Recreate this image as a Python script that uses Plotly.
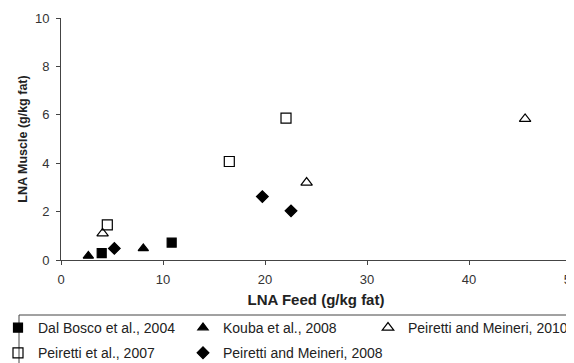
import plotly.graph_objects as go

# Data
dal_bosco_x = [3.99, 10.85]
dal_bosco_y = [0.28, 0.72]
kouba_x = [2.68, 8.07]
kouba_y = [0.17, 0.48]
peiretti2010_x = [4.08, 24.08, 45.5]
peiretti2010_y = [1.10, 3.20, 5.83]
peiretti2007_x = [4.54, 16.5, 22.06]
peiretti2007_y = [1.45, 4.07, 5.86]
peiretti2008_x = [5.23, 19.74, 22.55]
peiretti2008_y = [0.48, 2.62, 2.03]

x_ticks = [0, 10, 20, 30, 40, 50]
y_ticks = [0, 2, 4, 6, 8, 10]

# (name, x, y, symbol, size, legend column)
series = [
    ("Dal Bosco et al., 2004", dal_bosco_x, dal_bosco_y, "square", 9, "legend"),
    ("Kouba et al., 2008", kouba_x, kouba_y, "triangle-up", 9, "legend2"),
    ("Peiretti and Meineri, 2010", peiretti2010_x, peiretti2010_y, "triangle-up-open", 10, "legend3"),
    ("Peiretti et al., 2007", peiretti2007_x, peiretti2007_y, "square-open", 10, "legend"),
    ("Peiretti and Meineri, 2008", peiretti2008_x, peiretti2008_y, "diamond", 9, "legend2"),
]

fig = go.Figure()
for name, xs, ys, sym, size, leg in series:
    fig.add_trace(go.Scatter(
        x=xs, y=ys, mode="markers", name=name, legend=leg, legendgroup=name,
        marker=dict(symbol=sym, color="black", size=size,
                    line=dict(color="black", width=1.2)),
    ))

# page body has an 8px margin -> lay out in figure pixels = visible - 8
OFF = 8
W, H = 574, 363
L = 61 - OFF
T = 18 - OFF
R = W - (571 - OFF)
B = H - (260 - OFF)
pw = W - L - R
ph = H - T - B


def px_x(p):
    return (p - OFF - L) / pw


def px_y(p):
    return (H - B - (p - OFF)) / ph


leg_common = dict(
    orientation="v", xanchor="left", yanchor="top",
    itemwidth=30, borderwidth=0, bgcolor="rgba(0,0,0,0)",
    font=dict(size=14, color="#222"), itemsizing="trace",
    tracegroupgap=4,
)

fig.update_layout(
    width=W, height=H,
    margin=dict(l=L, r=R, t=T, b=B, autoexpand=False),
    paper_bgcolor="white", plot_bgcolor="white",
    font=dict(family="Liberation Sans, Arial, sans-serif", size=12, color="#222"),
    showlegend=True,
    legend=dict(x=px_x(-2), y=px_y(312), **leg_common),
    legend2=dict(x=px_x(183), y=px_y(312), **leg_common),
    legend3=dict(x=px_x(368), y=px_y(312), **leg_common),
    shapes=[dict(
        type="rect", xref="paper", yref="paper",
        x0=px_x(19), x1=px_x(590), y0=px_y(315), y1=px_y(380),
        line=dict(color="#444", width=1), fillcolor="rgba(0,0,0,0)",
    )],
    xaxis=dict(
        range=[0, 50], tickvals=x_ticks, ticks="outside", ticklen=4, tickcolor="#444",
        showline=True, linecolor="#444", linewidth=1, showgrid=False, zeroline=False,
        title=dict(text="<b>LNA Feed (g/kg fat)</b>", font=dict(size=15, color="#222"), standoff=8),
        tickfont=dict(size=13, color="#333"),
        ticklabelstandoff=3,
    ),
    yaxis=dict(
        range=[0, 10], tickvals=y_ticks, ticks="outside", ticklen=4, tickcolor="#444",
        showline=True, linecolor="#444", linewidth=1, showgrid=False, zeroline=False,
        title=dict(text="<b>LNA Muscle (g/kg fat)</b>", font=dict(size=12.5, color="#222"), standoff=4),
        tickfont=dict(size=13, color="#333"),
        ticklabelstandoff=4,
    ),
)

fig.write_html("out.html")
